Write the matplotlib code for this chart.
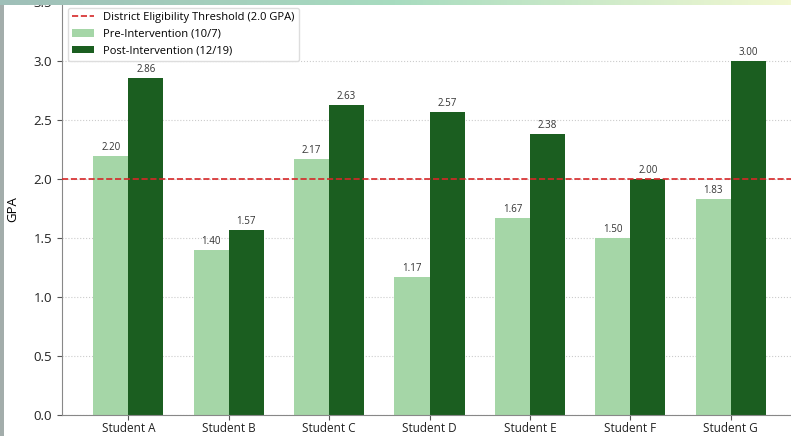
import matplotlib.pyplot as plt
import matplotlib.colors as mcolors
import numpy as np

plt.rcParams['font.family'] = ['Open Sans', 'DejaVu Sans']

students = ['Student A', 'Student B', 'Student C', 'Student D', 'Student E', 'Student F', 'Student G']
pre_gpa = [2.20, 1.40, 2.17, 1.17, 1.67, 1.50, 1.83]
post_gpa = [2.86, 1.57, 2.63, 2.57, 2.38, 2.00, 3.00]
threshold = 2.0

pre_color = '#a5d6a7'
post_color = '#1b5e20'

fig = plt.figure(figsize=(7.91, 4.36), dpi=100)
ax = fig.add_axes([0.0784, 0.048, 0.9216, 0.947])

x = np.arange(len(students))
w = 0.35
ax.axhline(threshold, color='#d62728', linestyle='--', linewidth=1.2,
           label='District Eligibility Threshold (2.0 GPA)', zorder=3)
bars_pre = ax.bar(x - w / 2, pre_gpa, w, color=pre_color, label='Pre-Intervention (10/7)', zorder=2)
bars_post = ax.bar(x + w / 2, post_gpa, w, color=post_color, label='Post-Intervention (12/19)', zorder=2)

for bars in (bars_pre, bars_post):
    for b in bars:
        ax.text(b.get_x() + b.get_width() / 2, b.get_height() + 0.025, f'{b.get_height():.2f}',
                ha='center', va='bottom', fontsize=7, color='#333333')

ax.set_xticks(x)
ax.set_xticklabels(students, fontsize=8.5)
ax.tick_params(axis='x', pad=1.5)
ax.set_ylim(0, 3.5)
ax.set_xlim(-0.66, 6.6)
ax.set_yticks(np.arange(0, 3.51, 0.5))
ax.tick_params(axis='y', labelsize=9.5)
ax.tick_params(colors='#555555', labelcolor='#222222')
ax.set_ylabel('GPA', fontsize=9.5, labelpad=10)
ax.grid(axis='y', linestyle=':', color='#cccccc', linewidth=0.8, zorder=0)
for s in ['top', 'right']:
    ax.spines[s].set_visible(False)
ax.spines['left'].set_color('#888888')
ax.spines['bottom'].set_color('#888888')

ax.legend(loc='upper left', fontsize=8, framealpha=1, edgecolor='#dddddd',
          bbox_to_anchor=(0.0, 1.0))

# screenshot frame: gradient band on top, grey strip at left
top = fig.add_axes([0, 1 - 5 / 436, 1, 5 / 436])
cmap = mcolors.LinearSegmentedColormap.from_list('band', ['#9fbfb8', '#a8dcc0', '#f2f8d2'])
top.imshow(np.linspace(0, 1, 256)[None, :], aspect='auto', cmap=cmap)
top.axis('off')
side = fig.add_axes([0, 0, 4 / 791, 1 - 5 / 436])
side.set_facecolor('#a3adab')
side.set_xticks([])
side.set_yticks([])
for s in side.spines.values():
    s.set_visible(False)

fig.savefig('out.png', dpi=100)
